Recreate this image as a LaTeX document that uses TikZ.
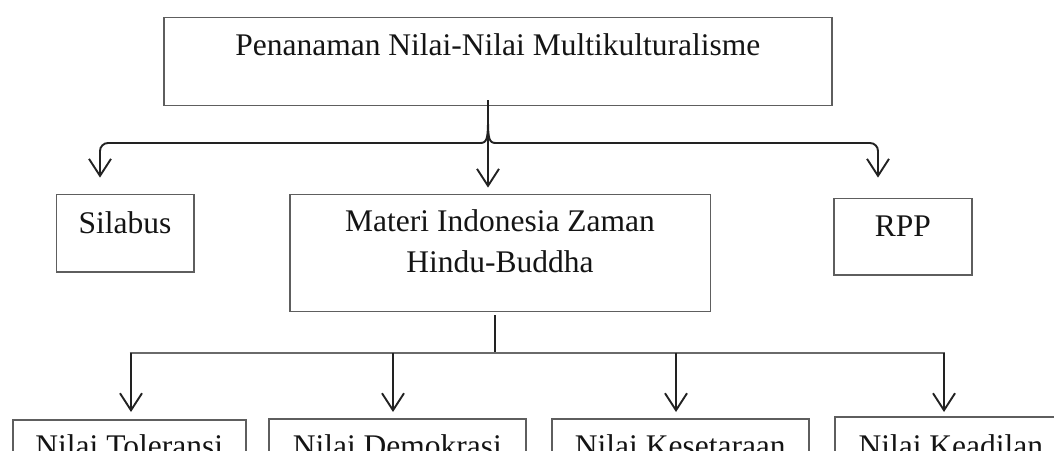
\documentclass[tikz,border=0pt]{standalone}
\usepackage{fontspec}
\setmainfont{Liberation Serif}
\usetikzlibrary{arrows.meta}
\definecolor{boxgray}{HTML}{5E5E5E}
\definecolor{linecol}{HTML}{222222}
\definecolor{txtcol}{HTML}{141414}
\definecolor{busgray}{HTML}{6A6A6A}
\begin{document}
\begin{tikzpicture}[x=1pt,y=-1pt,
  box/.style={draw=boxgray, line width=1.6pt, rectangle, inner sep=0pt, anchor=north west},
  lbl/.style={anchor=base, font=\fontsize{31.5}{40}\selectfont, text=txtcol, inner sep=0pt},
  conn/.style={draw=linecol, line width=1.9pt},
  arr/.style={conn, -{Straight Barb[length=17pt,width=22pt]}},
  vline/.style={draw=linecol, line width=1.4pt},
  bus/.style={draw=busgray, line width=2.4pt},
]
\useasboundingbox (0,0) rectangle (1054,450);
\clip (0,0) rectangle (1054,450);

% boxes
\node[box, minimum width=668pt, minimum height=88pt,
      label={[lbl, yshift=-38.5pt]north:Penanaman Nilai-Nilai Multikulturalisme}] (top) at (163,16.7) {};
\node[box, minimum width=137.5pt, minimum height=77.4pt,
      label={[lbl, yshift=-40pt]north:Silabus}] (sil) at (55.5,193.6) {};
\node[box, minimum width=420.5pt, minimum height=117pt,
      label={[lbl, yshift=-38.3pt]north:Materi Indonesia Zaman},
      label={[lbl, yshift=-79pt]north:Hindu-Buddha}] (mat) at (289,193.6) {};
\node[box, minimum width=138pt, minimum height=76.4pt,
      label={[lbl, yshift=-39pt]north:RPP}] (rpp) at (833,197.6) {};

\node[box, minimum width=233pt, minimum height=80pt,
      label={[lbl, yshift=-37pt]north:Nilai Toleransi}] (tol) at (12,419) {};
\node[box, minimum width=257pt, minimum height=80pt,
      label={[lbl, yshift=-38pt]north:Nilai Demokrasi}] (dem) at (268,418) {};
\node[box, minimum width=257pt, minimum height=80pt,
      label={[lbl, yshift=-38pt]north:Nilai Kesetaraan}] (kes) at (551,418) {};
\node[box, minimum width=232pt, minimum height=80pt,
      label={[lbl, yshift=-40pt]north:Nilai Keadilan}] (kea) at (834,416) {};

% upper connector (brace)
\coordinate (brtop) at (488,100);
\coordinate (brtip) at (488,118);
\draw[arr, shorten >=6pt] (brtop) -- (brtop |- mat.north);
\draw[arr, shorten >=16pt] (brtip) .. controls (488,139) and (487,143) .. (480,143)
   [rounded corners=8pt] -- (100,143) -- (100,193.6);
\draw[arr, shorten >=20pt] (brtip) .. controls (488,139) and (489,143) .. (496,143)
   [rounded corners=8pt] -- (878,143) -- (878,197.6);

% lower connector
\coordinate (mb1) at (495,315);
\coordinate (mb2) at (495,351.5);
\draw[vline] (mb1) -- (mb2);
\coordinate (b1) at (131,352.7);
\coordinate (b2) at (393,352.7);
\coordinate (b3) at (676,352.7);
\coordinate (b4) at (944,352.7);
\draw[bus] ([xshift=-1.5pt]b1) -- ([xshift=1.2pt]b4);
\draw[arr, shorten >=7pt] (b1) -- (b1 |- tol.north);
\draw[arr, shorten >=6pt] (b2) -- (b2 |- dem.north);
\draw[arr, shorten >=6pt] (b3) -- (b3 |- kes.north);
\draw[arr, shorten >=4pt] (b4) -- (b4 |- kea.north);
\end{tikzpicture}
\end{document}
